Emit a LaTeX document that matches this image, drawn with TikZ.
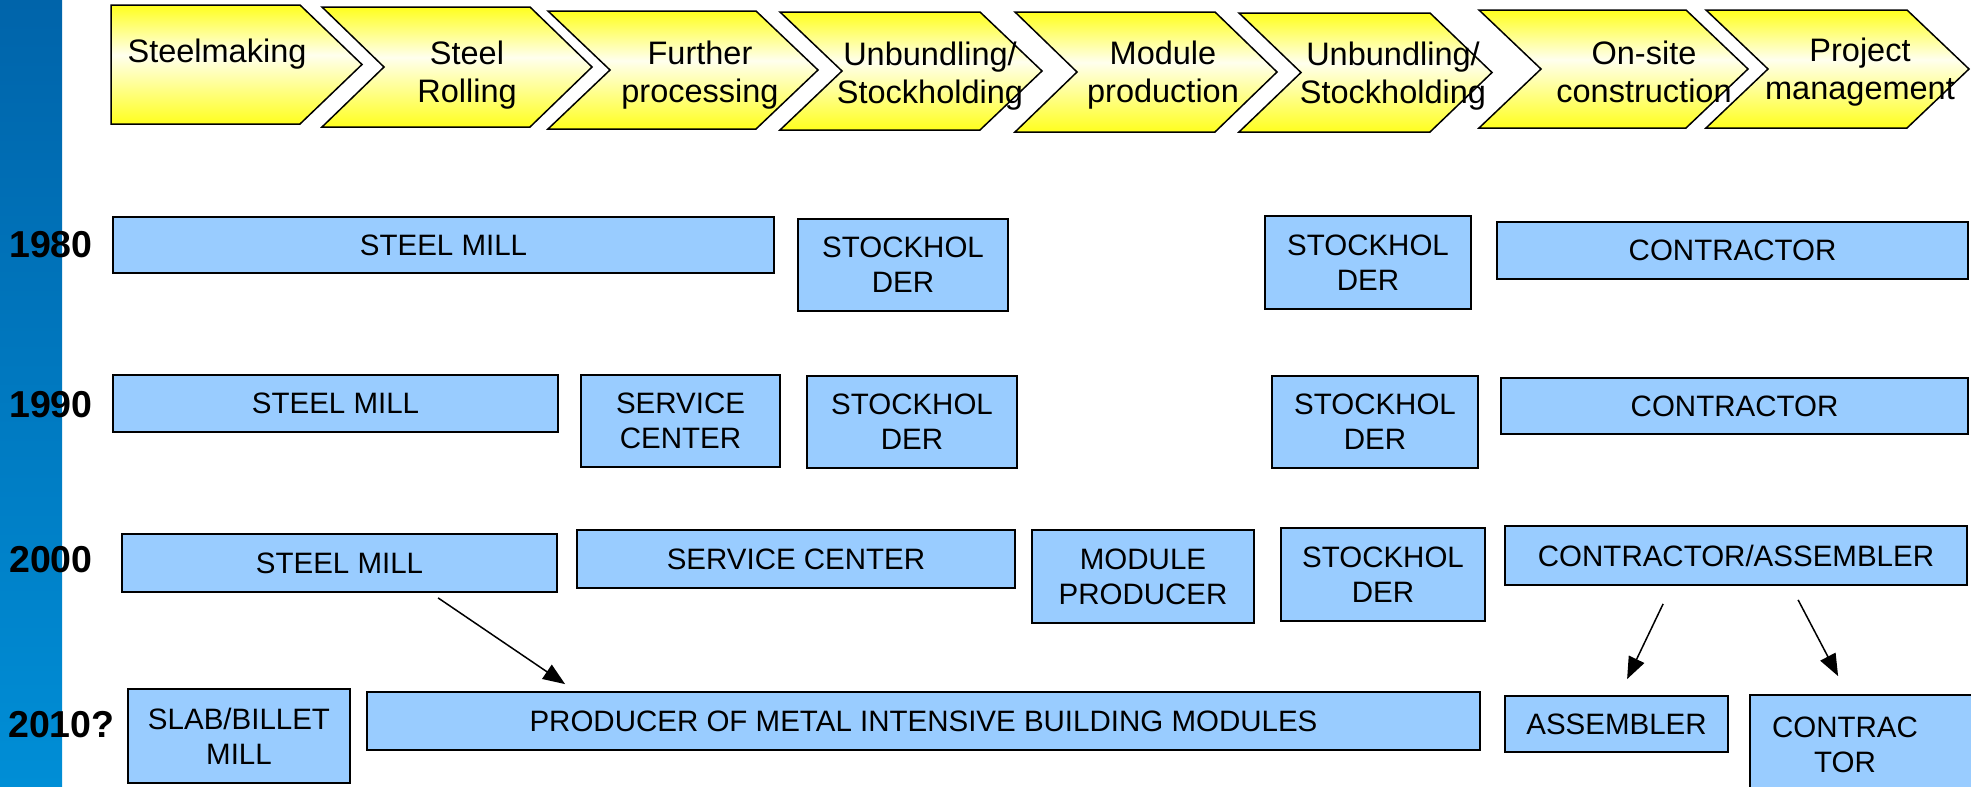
\documentclass[tikz,border=0pt]{standalone}
\usepackage{fontspec}
\setmainfont{Liberation Sans}
\usetikzlibrary{arrows.meta,calc}
\definecolor{boxblue}{RGB}{153,204,255}
\definecolor{chevyel}{RGB}{255,255,30}
\definecolor{chevpale}{RGB}{255,255,238}
\definecolor{bartop}{RGB}{0,100,170}
\definecolor{barbot}{RGB}{0,142,214}
\pgfdeclareverticalshading{chevshade}{100bp}{color(0bp)=(chevyel); color(25bp)=(chevyel); color(54bp)=(chevpale); color(75bp)=(chevyel); color(100bp)=(chevyel)}
\begin{document}
\begin{tikzpicture}[x=1pt,y=-1pt,
  box/.style={draw=black, fill=boxblue, line width=1.8pt, inner sep=0pt, align=center,
              font=\fontsize{29.5}{35}\selectfont},
  sz/.style 2 args={minimum width=#1pt, minimum height=#2pt},
  chev/.style={draw=black, line width=1.5pt, shading=chevshade},
  chevtext/.style={inner sep=0pt, align=center, font=\fontsize{32.5}{38}\selectfont},
  boxtext/.style={inner sep=0pt, align=center, font=\fontsize{29.5}{35}\selectfont},
  year/.style={anchor=west, inner sep=0pt, font=\fontsize{37.5}{42}\selectfont\bfseries},
  arr/.style={line width=1.5pt, -{Triangle[length=22pt,width=17pt]}}]

\useasboundingbox (0,0) rectangle (1971,787);
\clip (0,0) rectangle (1971,787);

% side bar
\shade[top color=bartop, bottom color=barbot] (0,0) rectangle (62,787);

% value chain
\shadedraw[chev] (111,5) -- (300,5) -- (362,64.5) -- (300,124) -- (111,124) -- cycle;
\shadedraw[chev] (322,7) -- (530,7) -- (592,67) -- (530,127) -- (322,127) -- (384,67) -- cycle;
\shadedraw[chev] (548,11) -- (756,11) -- (818,70) -- (756,129) -- (548,129) -- (610,70) -- cycle;
\shadedraw[chev] (780,12) -- (980,12) -- (1042,71) -- (980,130) -- (780,130) -- (842,71) -- cycle;
\shadedraw[chev] (1015,12) -- (1215,12) -- (1277,72) -- (1215,132) -- (1015,132) -- (1077,72) -- cycle;
\shadedraw[chev] (1239,13) -- (1430,13) -- (1492,72.5) -- (1430,132) -- (1239,132) -- (1301,72.5) -- cycle;
\shadedraw[chev] (1479,10) -- (1686,10) -- (1748,69) -- (1686,128) -- (1479,128) -- (1541,69) -- cycle;
\shadedraw[chev] (1706,10) -- (1907,10) -- (1969,69) -- (1907,128) -- (1706,128) -- (1768,69) -- cycle;

\node[chevtext] (c1) at (217,54) {Steelmaking};
\node[chevtext] (c2) at (467,75) {Steel\\Rolling};
\node[chevtext] (c3) at (700,75) {Further\\processing};
\node[chevtext] (c4) at (930,76) {Unbundling/\\Stockholding};
\node[chevtext] (c5) at (1163,75) {Module\\production};
\node[chevtext] (c6) at (1393,76) {Unbundling/\\Stockholding};
\node[chevtext] (c7) at (1644,72) {On-site\\construction};
\node[chevtext] (c8) at (1860,72) {Project\\management};

% years
\node[year] (y1980) at (9,245) {1980};
\node[year] (y1990) at (9,404.5) {1990};
\node[year] (y2000) at (9,560) {2000};
\node[year] (y2010) at (8,725) {2010?};

% 1980
\node[box, sz={661}{56}] (sm1) at (443.5,245) {STEEL MILL};
\node[box, sz={210}{92}] (st1a) at (903,265) {STOCKHOL\\DER};
\node[box, sz={206}{93}] (st1b) at (1368,262.5) {STOCKHOL\\DER};
\node[box, sz={471}{57}] (con1) at (1732.5,250.5) {CONTRACTOR};

% 1990
\node[box, sz={445}{57}] (sm2) at (335.5,403.5) {STEEL MILL};
\node[box, sz={199}{92}] (sc2) at (680.5,421) {SERVICE\\CENTER};
\node[box, sz={210}{92}] (st2a) at (912,422) {STOCKHOL\\DER};
\node[box, sz={206}{92}] (st2b) at (1375,422) {STOCKHOL\\DER};
\node[box, sz={467}{56}] (con2) at (1734.5,406) {CONTRACTOR};

% 2000
\node[box, sz={435}{58}] (sm3) at (339.5,563) {STEEL MILL};
\node[box, sz={438}{58}] (sc3) at (796,559) {SERVICE CENTER};
\node[box, sz={222}{93}] (mp3) at (1143,576.5) {MODULE\\PRODUCER};
\node[box, sz={204}{93}] (st3) at (1383,574.5) {STOCKHOL\\DER};
\node[box, sz={462}{59}] (ca3) at (1736,555.5) {CONTRACTOR/ASSEMBLER};

% 2010
\node[box, sz={222}{94}] (sb4) at (239,736) {SLAB/BILLET\\MILL};
\node[box, sz={1113}{58}] (pr4) at (923.5,721) {PRODUCER OF METAL INTENSIVE BUILDING MODULES};
\node[box, sz={223}{56}] (as4) at (1616.5,724) {ASSEMBLER};
\node[box, sz={240}{100}] (ct4) at (1870,745) {};
\node[boxtext] (ct4t) at (1845,745) {CONTRAC\\TOR};

% transitions
\draw[arr] ([shift={(317,5)}]sm3.south west) -- ([shift={(199,-7)}]pr4.north west);
\draw[arr] ([shift={(159,18)}]ca3.south west) -- ([shift={(123,-16)}]as4.north west);
\draw[arr] ([shift={(294,14)}]ca3.south west) -- ([shift={(89,-18)}]ct4.north west);
\end{tikzpicture}
\end{document}
